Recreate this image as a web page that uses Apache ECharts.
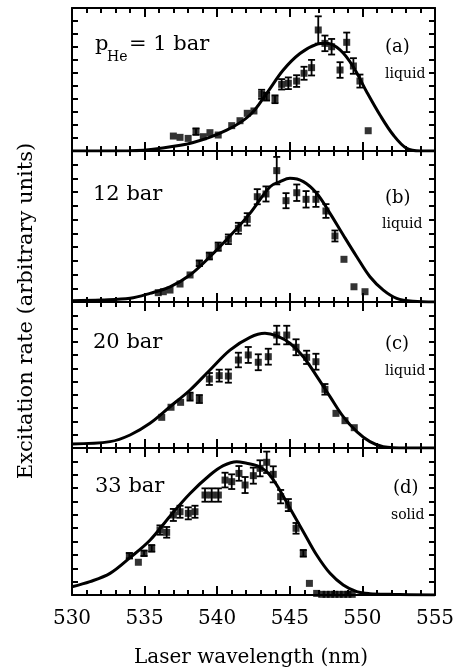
<!DOCTYPE html>
<html>
<head>
<meta charset="utf-8">
<script src="https://cdn.jsdelivr.net/npm/echarts@6/dist/echarts.min.js"></script>
<style>
  html, body { margin: 0; padding: 0; background: #fff; }
  #chart { width: 457px; height: 672px; background: #fff; }
</style>
</head>
<body>
<div id="chart"></div>
<script>
// x tick labels (nm)
var xTicks = [530, 535, 540, 545, 550, 555];

// fitted curves, [wavelength, rate]
var curveA = [[530, 0], [534, 0.02], [536, 0.2], [538.35, 0.65], [540.65, 1.6], [542.26, 2.77], [543.41, 4.44],
  [544.55, 6.23], [545.7, 7.5], [546.85, 8.2], [547.54, 8.28], [548.46, 7.77], [549.37, 6.48], [550.29, 4.56],
  [551.21, 2.77], [552.13, 1.23], [553.05, 0.2], [554, 0], [555, 0]];
var curveB = [[530, 0.1], [532, 0.15], [534, 0.27], [535.37, 0.63], [536.75, 1.11], [538.13, 1.97], [539.5, 3.3],
  [540.88, 4.81], [542.26, 6.46], [543.64, 8.4], [544.33, 8.77], [545.01, 9.01], [545.93, 8.77], [546.85, 7.92],
  [547.77, 6.46], [548.68, 4.88], [549.61, 3.3], [550.52, 1.84], [551.44, 0.87], [552.36, 0.27], [553.5, 0.05], [555, 0]];
var curveC = [[530, 0.3], [532.62, 0.48], [534, 0.98], [535.37, 1.86], [536.75, 3.11], [538.13, 4.37], [539.5, 5.88],
  [540.88, 7.38], [542.26, 8.34], [543.29, 8.64], [544.1, 8.44], [545.01, 7.89], [545.93, 6.88], [546.85, 5.42],
  [547.77, 3.87], [548.68, 2.36], [549.61, 1.23], [550.52, 0.48], [551.44, 0.1], [553, 0], [555, 0]];
var curveD = [[530, 0.62], [531.24, 1.0], [532.62, 1.62], [534, 2.8], [535.37, 4.1], [536.75, 5.9], [538.13, 7.6],
  [539.5, 8.98], [540.42, 9.68], [541.34, 9.98], [542.03, 9.86], [542.72, 9.68], [543.41, 9.23], [544.1, 8.23],
  [545.01, 6.49], [545.93, 4.74], [546.85, 2.99], [547.77, 1.62], [548.68, 0.75], [549.61, 0.25], [550.5, 0.1],
  [552, 0.05], [555, 0]];

// measured points, [wavelength, rate, error]
var pointsA = [[536.98, 1.15, 0], [537.44, 1.05, 0], [538.0, 0.97, 0], [538.54, 1.49, 0.25], [539.04, 1.1, 0],
  [539.5, 1.41, 0], [540.07, 1.23, 0], [541.0, 1.95, 0], [541.57, 2.33, 0], [542.07, 2.9, 0], [542.53, 3.08, 0],
  [543.06, 4.36, 0.35], [543.4, 4.18, 0.3], [543.98, 3.98, 0.3], [544.44, 5.13, 0.4], [544.9, 5.21, 0.45],
  [545.47, 5.38, 0.45], [545.98, 5.98, 0.5], [546.5, 6.41, 0.6], [546.96, 9.31, 1.05], [547.42, 8.28, 0.6],
  [547.88, 8.02, 0.6], [548.46, 6.23, 0.6], [548.92, 8.36, 0.75], [549.38, 6.54, 0.6], [549.83, 5.38, 0.5],
  [550.4, 1.56, 0]];
var pointsB = [[535.94, 0.68, 0], [536.29, 0.75, 0], [536.75, 0.87, 0], [537.44, 1.31, 0], [538.13, 1.97, 0],
  [538.77, 2.82, 0.2], [539.46, 3.35, 0.25], [540.07, 4.03, 0.3], [540.77, 4.57, 0.35], [541.46, 5.37, 0.4],
  [542.07, 6.02, 0.45], [542.76, 7.67, 0.55], [543.36, 7.87, 0.55], [544.1, 9.57, 1.0], [544.74, 7.38, 0.55],
  [545.48, 7.96, 0.6], [546.12, 7.48, 0.6], [546.8, 7.48, 0.55], [547.49, 6.63, 0.5], [548.11, 4.81, 0.4],
  [548.73, 3.11, 0], [549.42, 1.11, 0], [550.18, 0.75, 0]];
var pointsC = [[536.18, 2.31, 0], [536.82, 3.07, 0], [537.48, 3.44, 0], [538.13, 3.87, 0.3], [538.77, 3.69, 0.3],
  [539.46, 5.2, 0.45], [540.14, 5.45, 0.45], [540.77, 5.42, 0.5], [541.46, 6.63, 0.55], [542.14, 7.01, 0.6],
  [542.83, 6.46, 0.6], [543.52, 6.88, 0.6], [544.1, 8.51, 0.7], [544.79, 8.51, 0.7], [545.43, 7.59, 0.6],
  [546.16, 6.83, 0.5], [546.8, 6.5, 0.6], [547.42, 4.42, 0.4], [548.18, 2.61, 0], [548.8, 2.06, 0], [549.44, 1.53, 0]];
var pointsD = [[533.95, 2.94, 0.2], [534.57, 2.45, 0], [534.96, 3.12, 0.2], [535.49, 3.49, 0.25], [536.06, 4.86, 0.35],
  [536.52, 4.69, 0.4], [536.98, 5.99, 0.45], [537.44, 6.23, 0.45], [538.01, 6.11, 0.45], [538.47, 6.23, 0.45],
  [539.16, 7.48, 0.5], [539.62, 7.48, 0.5], [540.08, 7.48, 0.5], [540.54, 8.6, 0.55], [541.0, 8.48, 0.55],
  [541.5, 9.1, 0.55], [541.92, 8.23, 0.6], [542.49, 8.93, 0.6], [542.95, 9.48, 0.6], [543.41, 9.93, 0.8],
  [543.86, 9.03, 0.6], [544.37, 7.36, 0.5], [544.9, 6.73, 0.45], [545.43, 4.99, 0.4], [545.93, 3.12, 0.25],
  [546.35, 0.87, 0], [546.85, 0.12, 0], [547.2, 0.05, 0], [547.5, 0.05, 0], [547.8, 0.05, 0], [548.1, 0.05, 0],
  [548.4, 0.05, 0], [548.7, 0.05, 0], [549.0, 0.05, 0], [549.3, 0.05, 0]];

var panelLabels = ['(a)', '(b)', '(c)', '(d)'];
var phaseLabels = ['liquid', 'liquid', 'liquid', 'solid'];
var pressureLabels = ['1 bar', '12 bar', '20 bar', '33 bar'];

var curves = [curveA, curveB, curveC, curveD];
var points = [pointsA, pointsB, pointsC, pointsD];

var serif = '"DejaVu Serif", "Liberation Serif", serif';
var panels = [
  { top: 8, height: 143 },
  { top: 151, height: 151 },
  { top: 302, height: 146 },
  { top: 448, height: 147 }
];

var chart = echarts.init(document.getElementById('chart'));

var grids = [], xAxes = [], yAxes = [], series = [];

panels.forEach(function (p, i) {
  grids.push({ left: 72, right: 22, top: p.top, height: p.height, outerBoundsMode: 'none' });
  var last = i === panels.length - 1;
  ['bottom', 'top'].forEach(function (pos) {
    xAxes.push({
      show: true, gridIndex: i, type: 'value', position: pos, z: 10,
      min: xTicks[0], max: xTicks[xTicks.length - 1], interval: xTicks[1] - xTicks[0],
      axisLine: { show: true, onZero: false, lineStyle: { color: '#000', width: 2 } },
      axisTick: { show: true, inside: true, length: 9, lineStyle: { color: '#000', width: 2 } },
      minorTick: { show: true, splitNumber: 5, length: 5, lineStyle: { color: '#000', width: 2 } },
      axisLabel: { show: last && pos === 'bottom', margin: 14, color: '#000', fontFamily: serif, fontSize: 20 },
      splitLine: { show: false }
    });
  });
  ['left', 'right'].forEach(function (pos) {
    yAxes.push({
      show: true, gridIndex: i, type: 'value', position: pos, z: 10, min: 0, max: 11, interval: 1,
      axisLine: { show: true, onZero: false, lineStyle: { color: '#000', width: 2 } },
      axisTick: { show: true, inside: true, length: 6, lineStyle: { color: '#000', width: 2 } },
      axisLabel: { show: false },
      splitLine: { show: false }
    });
  });

  series.push({
    type: 'line', xAxisIndex: 2 * i, yAxisIndex: 2 * i, data: curves[i],
    smooth: 0.35, showSymbol: false,
    lineStyle: { color: '#000', width: 3 }, z: 3
  });
  series.push({
    type: 'custom', xAxisIndex: 2 * i, yAxisIndex: 2 * i,
    data: points[i].filter(function (d) { return d[2] > 0; }),
    encode: { x: 0, y: 1 },
    renderItem: function (params, api) {
      var x = api.value(0), y = api.value(1), e = api.value(2);
      var hi = api.coord([x, y + e]), lo = api.coord([x, y - e]);
      var w = 3.5;
      var st = { stroke: '#000', lineWidth: 1.8 };
      return {
        type: 'group',
        children: [
          { type: 'line', shape: { x1: hi[0], y1: hi[1], x2: lo[0], y2: lo[1] }, style: st },
          { type: 'line', shape: { x1: hi[0] - w, y1: hi[1], x2: hi[0] + w, y2: hi[1] }, style: st },
          { type: 'line', shape: { x1: lo[0] - w, y1: lo[1], x2: lo[0] + w, y2: lo[1] }, style: st }
        ]
      };
    },
    z: 4
  });
  series.push({
    type: 'scatter', xAxisIndex: 2 * i, yAxisIndex: 2 * i, data: points[i],
    symbol: 'rect', symbolSize: 7, itemStyle: { color: '#000' }, z: 5
  });
});

var graphics = [
  // p_He = 1 bar
  { type: 'text', x: 95, y: 45, style: { text: 'p', font: '21px ' + serif, fill: '#000', verticalAlign: 'middle' } },
  { type: 'text', x: 107, y: 57, style: { text: 'He', font: '14px ' + serif, fill: '#000', verticalAlign: 'middle' } },
  { type: 'text', x: 129, y: 45, style: { text: '= ' + pressureLabels[0], font: '21px ' + serif, fill: '#000', verticalAlign: 'middle' } },
  { type: 'text', x: 93, y: 195, style: { text: pressureLabels[1], font: '21px ' + serif, fill: '#000', verticalAlign: 'middle' } },
  { type: 'text', x: 93, y: 343, style: { text: pressureLabels[2], font: '21px ' + serif, fill: '#000', verticalAlign: 'middle' } },
  { type: 'text', x: 95, y: 487, style: { text: pressureLabels[3], font: '21px ' + serif, fill: '#000', verticalAlign: 'middle' } },
  // axis names
  { type: 'text', x: 251, y: 658, style: { text: 'Laser wavelength (nm)', font: '20px ' + serif, fill: '#000', align: 'center', verticalAlign: 'middle' } },
  { type: 'text', x: 27, y: 311, rotation: Math.PI / 2, style: { text: 'Excitation rate (arbitrary units)', font: '21px ' + serif, fill: '#000', align: 'center', verticalAlign: 'middle' } }
];
var letterPos = [[385, 47, 385, 74], [385, 198, 382, 224], [385, 344, 385, 371], [393, 488, 391, 515]];
letterPos.forEach(function (lp, i) {
  graphics.push({ type: 'text', x: lp[0], y: lp[1], style: { text: panelLabels[i], font: '18px ' + serif, fill: '#000', verticalAlign: 'middle' } });
  graphics.push({ type: 'text', x: lp[2], y: lp[3], style: { text: phaseLabels[i], font: '14px ' + serif, fill: '#000', verticalAlign: 'middle' } });
});

chart.setOption({
  animation: false,
  grid: grids,
  xAxis: xAxes,
  yAxis: yAxes,
  series: series,
  graphic: graphics
});
</script>
</body>
</html>
